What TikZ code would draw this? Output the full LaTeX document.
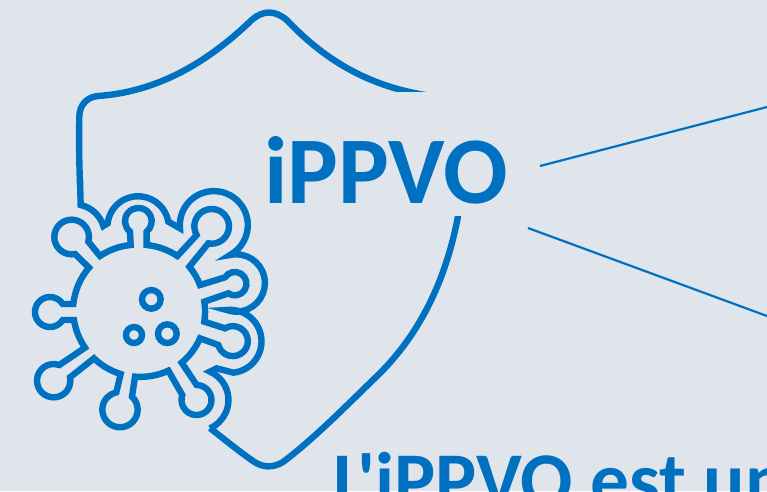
\documentclass[tikz,border=0pt]{standalone}
\usepackage{fontspec}
\newfontfamily\carlito{Carlito}
\usetikzlibrary{svg.path}
\definecolor{bgc}{HTML}{E0E5EC}
\definecolor{bluec}{HTML}{0070C0}
\tikzset{
  outline/.style={draw=bluec,line width=6.4pt,line join=miter,line cap=round,fill=none},
  thinline/.style={draw=bluec,line width=2.2pt},
  title/.style={text=bluec,inner sep=0pt,anchor=base west}
}
\begin{document}
\begin{tikzpicture}[x=1pt,y=-1pt]
\useasboundingbox (0,0) rectangle (767,491);
\fill[bgc] (0,0) rectangle (767,491);
% shield
\begin{scope}
\clip (0,0) -- (767,0) -- (767,91.8) -- (300,91.8) -- (300,491) -- (0,491) -- cycle;
\draw[outline] (80,183) .. controls (79,160) and (79,135) .. (79.3,117)
  .. controls (79.3,105) and (87,97) .. (98,96)
  .. controls (155,92) and (205,65) .. (251.7,20)
  .. controls (263,10) and (275,10) .. (286.7,20)
  .. controls (320,55) and (365,88) .. (436,96.5);
\end{scope}
\begin{scope}
\clip (0,216) rectangle (767,491);
\draw[outline,line cap=butt] (460,205) .. controls (447,285) and (415,340) .. (375,378)
  .. controls (350,402) and (315,438) .. (283,462)
  .. controls (273,468) and (263,468) .. (253,461)
  .. controls (240,452) and (225,440) .. (210,428);
\end{scope}
% virus, traced in units of a third of a pixel
\begin{scope}[shift={(20,180)},xscale=1/3,yscale=-1/3]
\draw[outline,line cap=butt] svg {M 180 0 L 182 75 A 92 92 0 0 1 250 138 L 263 130 A 92 92 0 0 1 445 125 L 480 145 A 102 102 0 1 1 630 225 A 86 86 0 1 1 620 390 A 93 93 0 1 1 640 578 L 590 565 L 570 575 A 93 93 0 0 1 570 745};
\draw[outline,line cap=butt] svg {M 240 228 A 200 200 0 0 1 332 195 L 330 155 A 40 40 0 1 1 380 155 L 380 195 A 200 200 0 0 1 472 228 L 530 165 A 52 52 0 1 1 565 190 L 508 260 A 200 200 0 0 1 540 315 L 615 292 A 35 35 0 1 1 625 340 L 553 365 A 200 200 0 0 1 553 425 L 615 445 A 45 45 0 1 1 595 495 L 540 475 A 200 200 0 0 1 485 548 L 530 615 A 45 45 0 1 1 487 645 L 445 572 A 200 200 0 0 1 345 590 L 336 650 A 53 53 0 1 1 289 637 L 302 582 A 200 200 0 0 1 222 535 L 150 592 A 50 50 0 1 1 118 555 L 195 503 A 200 200 0 0 1 162 420 L 128 420 A 45 45 0 1 1 128 372 L 160 372 A 200 200 0 0 1 207 263 L 165 222 A 52 52 0 1 1 205 185 Z};
\draw[outline] (394,-358) circle[radius=28];
\draw[outline] (342,-465) circle[radius=24];
\draw[outline] (442,-461) circle[radius=28];
\end{scope}
% text
\node[title,font=\carlito\bfseries\fontsize{95.5}{96}\selectfont] (logo) at (264,203) {iPPVO};
\node[title,font=\carlito\bfseries\fontsize{77.4}{78}\selectfont] (claim) at (333,506) {L'iPPVO est un};
% connectors
\coordinate (endA) at (767,107);
\coordinate (endB) at (767,316);
\coordinate (startA) at (540,166);
\coordinate (startB) at (528,228);
\draw[thinline] (startA) -- (endA);
\draw[thinline] (startB) -- (endB);
\end{tikzpicture}
\end{document}
